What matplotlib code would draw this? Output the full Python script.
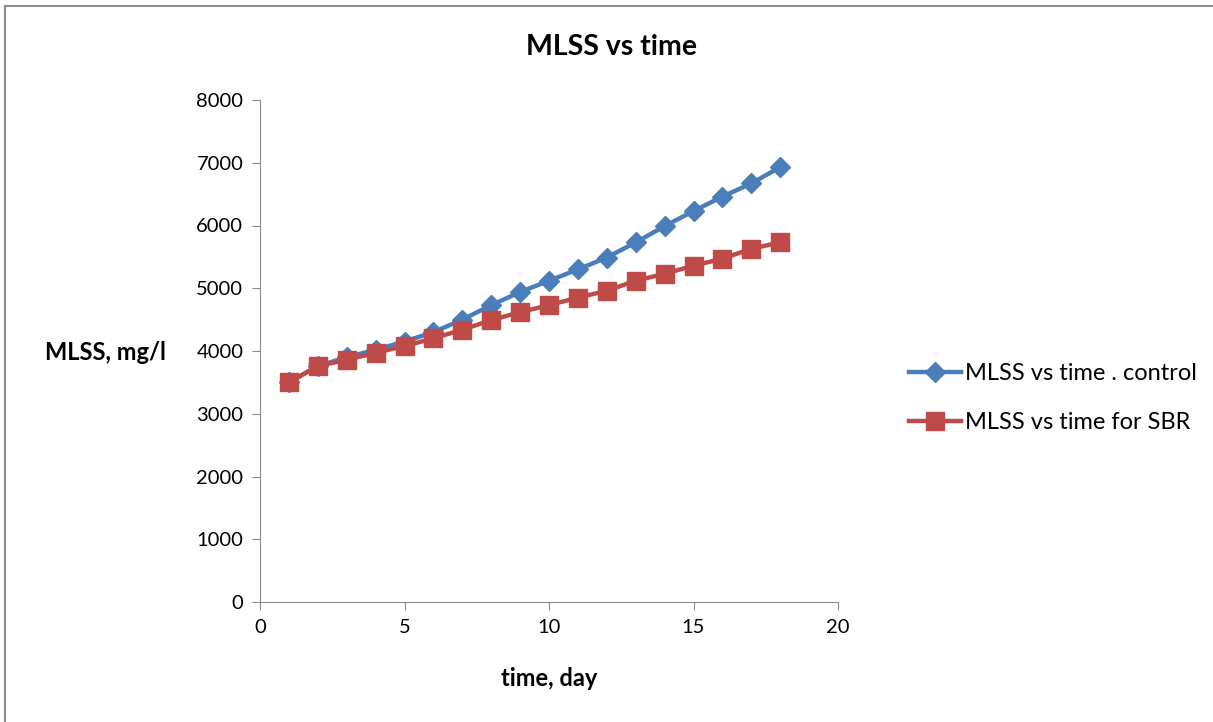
import matplotlib
matplotlib.use("Agg")
import matplotlib.pyplot as plt
from matplotlib.lines import Line2D

plt.rcParams['font.family'] = ['Lato', 'DejaVu Sans']

days = list(range(1, 19))
control = [3500, 3760, 3900, 4020, 4150, 4300, 4500, 4730, 4940, 5120, 5300, 5490,
           5730, 5990, 6230, 6460, 6670, 6930]
sbr = [3500, 3760, 3860, 3970, 4080, 4200, 4340, 4490, 4620, 4730, 4850, 4960,
       5120, 5230, 5360, 5470, 5630, 5730]

xticks = [0, 5, 10, 15, 20]
yticks = [0, 1000, 2000, 3000, 4000, 5000, 6000, 7000, 8000]

W, H = 1213, 722
fig = plt.figure(figsize=(W/100, H/100), dpi=100)
border = '#8c8c8c'
fig.add_artist(Line2D([5/W, 5/W], [0, 1-6/H], transform=fig.transFigure,
                      color=border, lw=1.5))
fig.add_artist(Line2D([5/W, 1], [1-6/H, 1-6/H], transform=fig.transFigure,
                      color=border, lw=1.5))

ax = fig.add_axes([260/W, 1-602/H, (838-260)/W, (602-100)/H])

blue = '#4A7EBB'
red = '#BE4B48'
ax.plot(days, control, color=blue, lw=3.2, marker='D', markersize=10,
        label='MLSS vs time . control', zorder=3)
ax.plot(days, sbr, color=red, lw=3.2, marker='s', markersize=13,
        label='MLSS vs time for SBR', zorder=4)

ax.set_xlim(0, 20)
ax.set_ylim(0, 8000)
ax.set_xticks(xticks)
ax.set_yticks(yticks)
ax.tick_params(labelsize=14.5, color=border, length=6, direction='out', pad=6)
for s in ['top', 'right']:
    ax.spines[s].set_visible(False)
for s in ['left', 'bottom']:
    ax.spines[s].set_color(border)

fig.text(611/W, 1-47/H, 'MLSS vs time', ha='center', va='center',
         fontsize=20.5, fontweight='bold')
fig.text(105/W, 1-352/H, 'MLSS, mg/l', ha='center', va='center',
         fontsize=17, fontweight='bold')
fig.text(549/W, 1-678/H, 'time, day', ha='center', va='center',
         fontsize=17, fontweight='bold')

fig.legend(loc='center left', bbox_to_anchor=(888/W, 1-398/H), frameon=False,
           fontsize=17, handlelength=2.2, handletextpad=0.15, labelspacing=1.2)

fig.savefig('out.png', dpi=100)
